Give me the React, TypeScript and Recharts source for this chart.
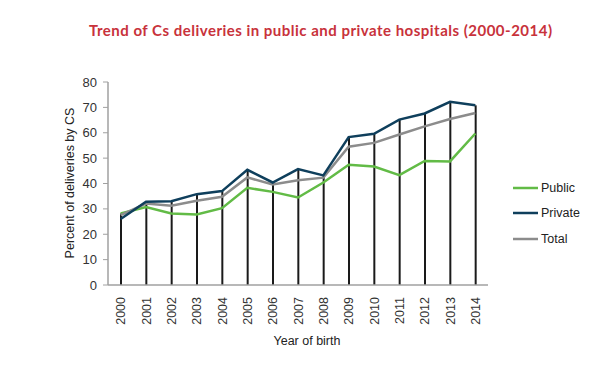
import React from 'react';
import { ComposedChart, Line, Bar, XAxis, YAxis } from 'recharts';

const years = ['2000','2001','2002','2003','2004','2005','2006','2007','2008','2009','2010','2011','2012','2013','2014'];
const publicVals = [28.2, 30.7, 28.2, 27.8, 30.3, 38.3, 36.7, 34.5, 40.4, 47.4, 46.7, 43.3, 48.9, 48.7, 59.7];
const privateVals = [26.0, 32.8, 33.0, 35.8, 37.0, 45.4, 40.4, 45.7, 43.2, 58.3, 59.6, 65.2, 67.6, 72.2, 70.8];
const totalVals = [27.5, 32.1, 31.2, 33.2, 34.8, 42.4, 39.6, 41.3, 42.3, 54.5, 56.0, 59.3, 62.5, 65.4, 67.8];
const yTicks = [0, 10, 20, 30, 40, 50, 60, 70, 80];

const data = years.map((y, i) => ({
  year: y,
  pub: publicVals[i],
  priv: privateVals[i],
  total: totalVals[i],
  drop: Math.max(publicVals[i], privateVals[i], totalVals[i]),
}));

const GREEN = '#62bb46';
const NAVY = '#0f3f5c';
const GREY = '#8c8c8c';
const FONT = '"Liberation Sans", Arial, sans-serif';

const XTick = (props: any) => {
  const { x, y, payload } = props;
  return (
    <text x={x} y={y} transform={`rotate(-90, ${x}, ${y})`} textAnchor="end" dy="0.36em" fontSize={12.5} fill="#333" fontFamily={FONT}>
      {payload.value}
    </text>
  );
};

const legendItems = [
  { name: 'Public', color: GREEN },
  { name: 'Private', color: NAVY },
  { name: 'Total', color: GREY },
];

export default function App() {
  return (
    <div style={{ width: 600, height: 370, background: '#fff', position: 'relative' }}>
      <style>{'body{margin:0}'}</style>
      <ComposedChart width={600} height={370} data={data} margin={{ top: 82, right: 112, bottom: 25, left: 0 }}>
        <text x={320.5} y={36} textAnchor="middle" fontFamily='Lato, "Open Sans", sans-serif' fontWeight={700} fontSize={15} fill="#c8323b" textLength={463} lengthAdjust="spacing">
          Trend of Cs deliveries in public and private hospitals (2000-2014)
        </text>
        <text x={74} y={183} transform="rotate(-90, 74, 183)" textAnchor="middle" fontFamily={FONT} fontSize={12.5} fill="#222">
          Percent of deliveries by CS
        </text>
        <text x={307} y={345} textAnchor="middle" fontFamily={FONT} fontSize={12.5} fill="#222">
          Year of birth
        </text>
        <XAxis dataKey="year" tick={<XTick />} tickLine={false} axisLine={{ stroke: '#a0a0a0', strokeWidth: 1.5 }} height={60} interval={0} tickMargin={6} />
        <YAxis domain={[0, 80]} ticks={yTicks} width={108} tickLine={{ stroke: '#a0a0a0' }} tickSize={5} axisLine={{ stroke: '#a0a0a0', strokeWidth: 1.5 }} tick={{ fontSize: 13, fill: '#333', fontFamily: FONT }} tickMargin={6} interval={0} />
        <Bar dataKey="drop" barSize={2} fill="#1a1a1a" isAnimationActive={false} />
        <Line type="linear" dataKey="pub" stroke={GREEN} strokeWidth={2.5} dot={false} isAnimationActive={false} />
        <Line type="linear" dataKey="total" stroke={GREY} strokeWidth={2.5} dot={false} isAnimationActive={false} />
        <Line type="linear" dataKey="priv" stroke={NAVY} strokeWidth={2.5} dot={false} isAnimationActive={false} />
      </ComposedChart>
      <div style={{ position: 'absolute', left: 513, top: 175, fontFamily: FONT, fontSize: 12.5, color: '#222' }}>
        {legendItems.map((it) => (
          <div key={it.name} style={{ display: 'flex', alignItems: 'center', height: 25.5 }}>
            <svg width={26} height={6} style={{ marginRight: 2 }}>
              <line x1={0} y1={3} x2={25} y2={3} stroke={it.color} strokeWidth={2.5} />
            </svg>
            <span>{it.name}</span>
          </div>
        ))}
      </div>
    </div>
  );
}
